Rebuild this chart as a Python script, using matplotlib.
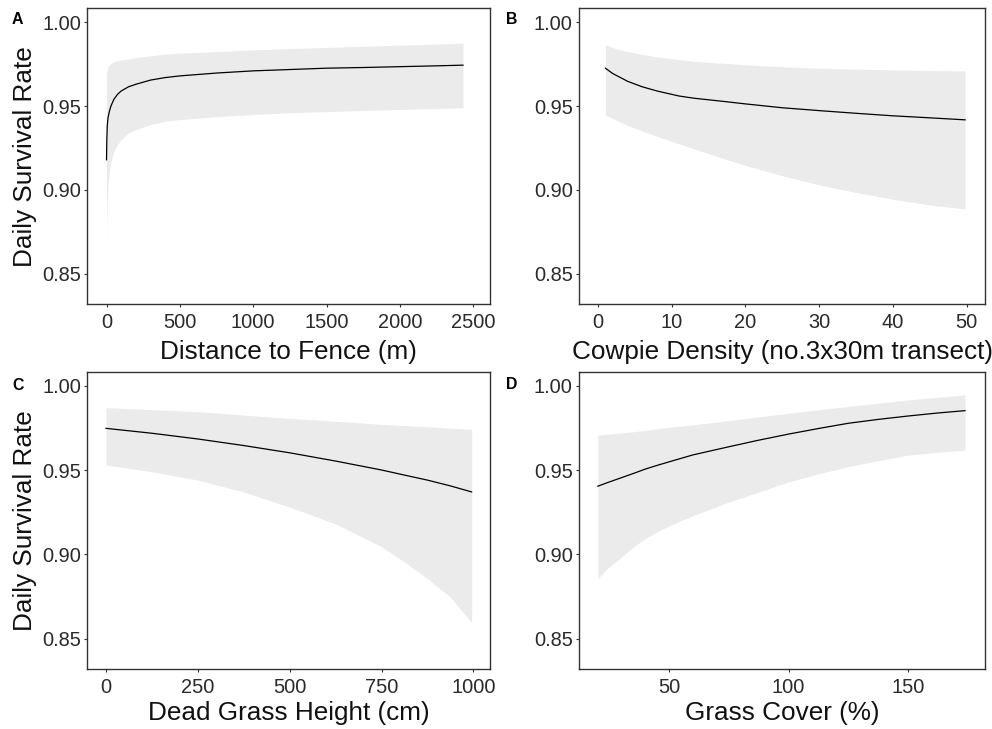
import numpy as np
import matplotlib
matplotlib.use('Agg')
import matplotlib.pyplot as plt

plt.rcParams['font.family'] = ['Liberation Sans', 'DejaVu Sans']

# A: distance to fence (m)
fence_x = [0, 2, 5, 10, 20, 30, 50, 75, 100, 150, 200, 300, 400, 500, 750,
           1000, 1250, 1500, 1750, 2000, 2250, 2430]
fence_fit = [0.918, 0.930, 0.938, 0.943, 0.947, 0.950, 0.954, 0.957, 0.959, 0.9615,
             0.963, 0.9655, 0.967, 0.968, 0.9697, 0.971, 0.9718, 0.9726, 0.973,
             0.9735, 0.974, 0.9744]
fence_hi = [0.969, 0.971, 0.972, 0.9735, 0.9745, 0.9755, 0.9765, 0.977, 0.9775, 0.978,
            0.979, 0.980, 0.981, 0.9815, 0.9825, 0.9835, 0.9843, 0.985, 0.9857,
            0.9863, 0.987, 0.9875]
fence_lo = [0.870, 0.882, 0.893, 0.903, 0.912, 0.917, 0.923, 0.927, 0.930, 0.934,
            0.936, 0.939, 0.941, 0.942, 0.9437, 0.945, 0.946, 0.9467, 0.9474,
            0.948, 0.9486, 0.949]

# B: cowpie density
cow_x = [1, 2, 4, 6, 8, 11, 13, 17, 20, 25, 30, 35, 40, 45, 49.8]
cow_fit = [0.9726, 0.9694, 0.9648, 0.9615, 0.959, 0.956, 0.9547, 0.9528, 0.9513,
           0.949, 0.9473, 0.9457, 0.9442, 0.943, 0.9418]
cow_hi = [0.9865, 0.9848, 0.9825, 0.9808, 0.9793, 0.9777, 0.9767, 0.9755, 0.9746,
          0.9735, 0.9726, 0.972, 0.9716, 0.9712, 0.971]
cow_lo = [0.9448, 0.9425, 0.9385, 0.9352, 0.932, 0.9275, 0.9245, 0.9188, 0.9146,
          0.9085, 0.903, 0.8985, 0.8945, 0.891, 0.8887]

# C: dead grass height (cm)
dead_x = [0, 125, 250, 375, 500, 625, 750, 812, 875, 937, 995]
dead_fit = [0.9747, 0.9718, 0.9684, 0.9645, 0.9602, 0.9553, 0.950, 0.947, 0.944,
            0.9406, 0.937]
dead_hi = [0.987, 0.9858, 0.9846, 0.9826, 0.9806, 0.9789, 0.9771, 0.9763, 0.9756,
           0.9748, 0.9741]
dead_lo = [0.953, 0.949, 0.944, 0.937, 0.928, 0.918, 0.9045, 0.8955, 0.8855,
           0.8747, 0.8595]

# D: grass cover (%)
cover_x = [20, 24, 30, 35, 40, 45, 50, 60, 75, 87.5, 100, 112.5, 125, 137.5, 150,
           162.5, 174]
cover_fit = [0.9404, 0.9425, 0.9455, 0.948, 0.9506, 0.9528, 0.9549, 0.959, 0.9638,
             0.9677, 0.9713, 0.9746, 0.9777, 0.980, 0.982, 0.9838, 0.9852]
cover_hi = [0.9707, 0.9712, 0.972, 0.9727, 0.9735, 0.9744, 0.9753, 0.9768, 0.9793,
            0.9815, 0.9836, 0.9857, 0.9877, 0.9896, 0.9915, 0.9931, 0.9945]
cover_lo = [0.8856, 0.8916, 0.8985, 0.9045, 0.9095, 0.9135, 0.917, 0.923, 0.931,
            0.937, 0.943, 0.9477, 0.952, 0.9555, 0.9588, 0.9605, 0.9618]

y_ticks = [0.85, 0.90, 0.95, 1.00]

W, H = 992, 729
fig = plt.figure(figsize=(W / 100, H / 100), dpi=100)


def box(left, top, right, bottom):
    return [left / W, 1 - bottom / H, (right - left) / W, (bottom - top) / H]


panels = [
    ('A', box(87.3, 8.3, 490, 304), fence_x, fence_fit, fence_hi, fence_lo,
     (-131, 2614), [0, 500, 1000, 1500, 2000, 2500], 'Distance to Fence (m)', True, (17.5, 24), -0.161),
    ('B', box(579, 8.3, 985, 304), cow_x, cow_fit, cow_hi, cow_lo,
     (-2.58, 52.5), [0, 10, 20, 30, 40, 50], 'Cowpie Density (no.3x30m transect)', False, (511.7, 24), -0.161),
    ('C', box(87.3, 371.7, 490, 669), dead_x, dead_fit, dead_hi, dead_lo,
     (-51, 1045), [0, 250, 500, 750, 1000], 'Dead Grass Height (cm)', True, (18.5, 389.5), -0.149),
    ('D', box(579, 371.7, 985, 669), cover_x, cover_fit, cover_hi, cover_lo,
     (12.1, 182.4), [50, 100, 150], 'Grass Cover (%)', False, (512, 389), -0.148),
]

for letter, pos, x, fit, hi, lo, xlim, xticks, xlabel, show_ylab, lpos, xlab_y in panels:
    ax = fig.add_axes(pos)
    ax.fill_between(x, lo, hi, color='#ebebeb', linewidth=0)
    ax.plot(x, fit, color='black', linewidth=0.9)
    ax.set_xlim(*xlim)
    ax.set_ylim(0.832, 1.0083)
    ax.set_xticks(xticks)
    ax.set_yticks(y_ticks)
    ax.set_yticklabels(['%.2f' % v for v in y_ticks])
    for sp in ax.spines.values():
        sp.set_color('#333333')
        sp.set_linewidth(1.0)
    ax.tick_params(length=2.5, width=0.8, color='#333333', labelsize=14.4,
                   labelcolor='#2a2a2a')
    ax.tick_params(axis='x', pad=4)
    ax.tick_params(axis='y', pad=2)
    ax.set_xlabel(xlabel, fontsize=18.8, color='#111111')
    ax.xaxis.set_label_coords(0.5, xlab_y)
    ax.xaxis.label.set_va('center')
    if show_ylab:
        ax.set_ylabel('Daily Survival Rate', fontsize=18.8, color='#111111')
        ax.yaxis.set_label_coords(-0.155, 0.5)
        ax.yaxis.label.set_va('center')
    fig.text(lpos[0] / W, 1 - lpos[1] / H, letter, fontsize=11.4, fontweight='bold',
             ha='center', va='baseline')

fig.savefig('out.png', dpi=100)
